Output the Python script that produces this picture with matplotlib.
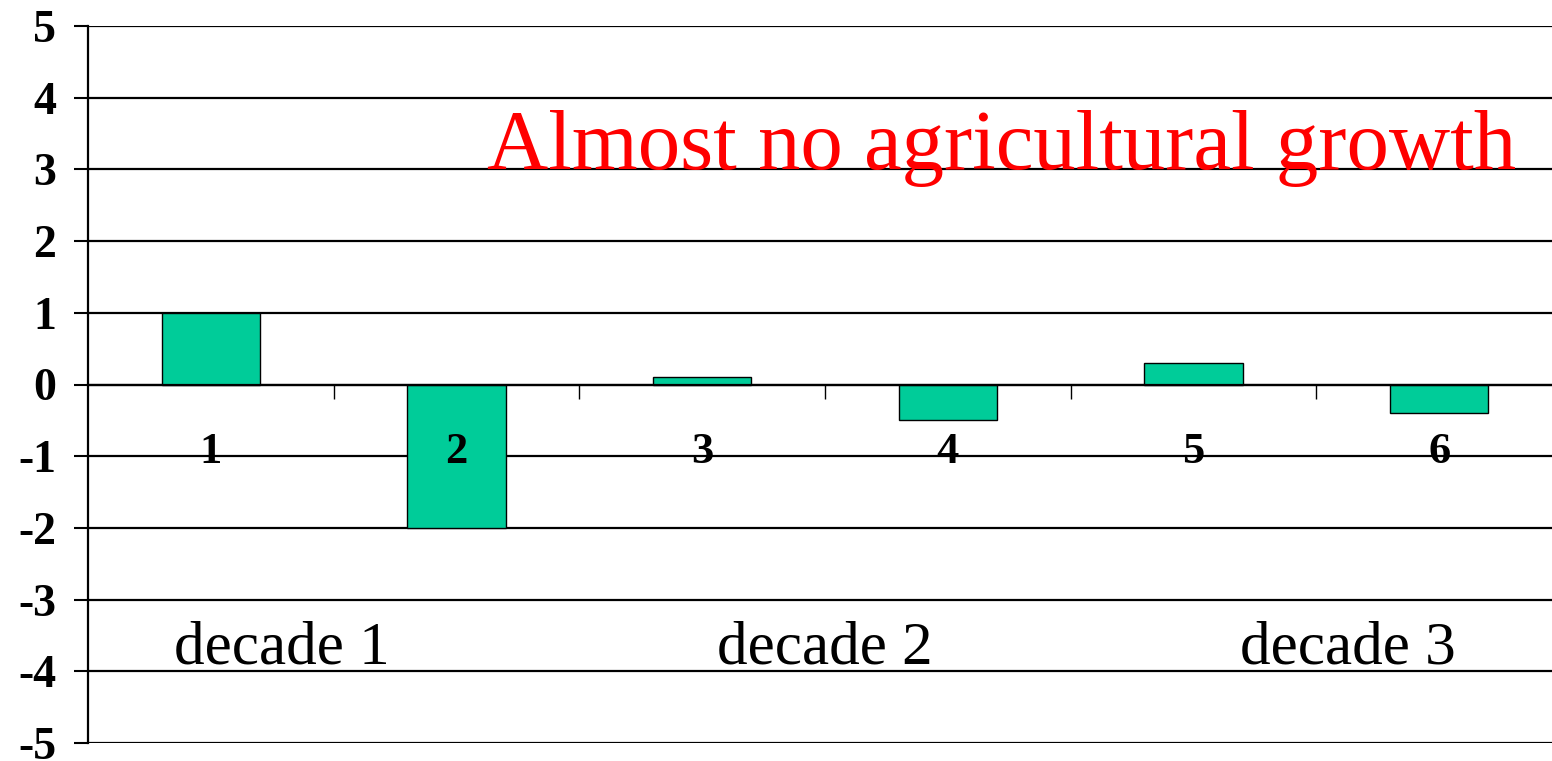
import matplotlib
matplotlib.use('Agg')
import matplotlib.pyplot as plt
import numpy as np

# Data
periods = ['1', '2', '3', '4', '5', '6']
growth = [1.0, -2.0, 0.1, -0.5, 0.3, -0.4]
decades = ['decade 1', 'decade 2', 'decade 3']
decade_x = [1.29, 3.5, 5.63]
title = 'Almost no agricultural growth'

plt.rcParams['font.family'] = ['Liberation Serif', 'DejaVu Serif']
plt.rcParams['axes.unicode_minus'] = False

fig = plt.figure(figsize=(15.52, 7.61), dpi=100)
ax = fig.add_axes([88/1552, 18/761, 1474/1552, 717/761])

x = np.arange(1, len(growth) + 1)
ax.bar(x, growth, width=0.4, color='#00CC99', edgecolor='black', linewidth=1.0, zorder=3)

ax.set_xlim(0.5, 6.5)
ax.set_ylim(-5, 5)
ax.set_yticks(range(-5, 6))
ax.tick_params(axis='y', direction='out', length=10, width=1.5, pad=13, labelsize=33)
for lab in ax.get_yticklabels():
    lab.set_fontweight('bold')

# horizontal gridlines
ax.yaxis.grid(True, color='black', linewidth=1.6, zorder=1)

# x axis at zero with ticks between categories
ax.spines['bottom'].set_position(('data', 0))
ax.spines['bottom'].set_linewidth(1.6)
ax.spines['bottom'].set_zorder(4)
ax.spines['top'].set_visible(False)
ax.spines['right'].set_visible(False)
ax.spines['left'].set_linewidth(1.6)
ax.set_xticks(np.arange(1.5, 6.5, 1.0))
ax.set_xticklabels([])
ax.tick_params(axis='x', direction='out', length=10, width=1.0)

for xi, p in zip(x, periods):
    ax.text(xi, -1.1, p, ha='center', va='baseline', fontsize=32, fontweight='bold', zorder=5)

for dx, d in zip(decade_x, decades):
    ax.text(dx, -3.89, d, ha='center', va='baseline', fontsize=44, zorder=5)

ax.text(4.22, 3.01, title, ha='center', va='baseline', fontsize=61, color='#FF0000', zorder=5)

fig.savefig('out.png', dpi=100)
